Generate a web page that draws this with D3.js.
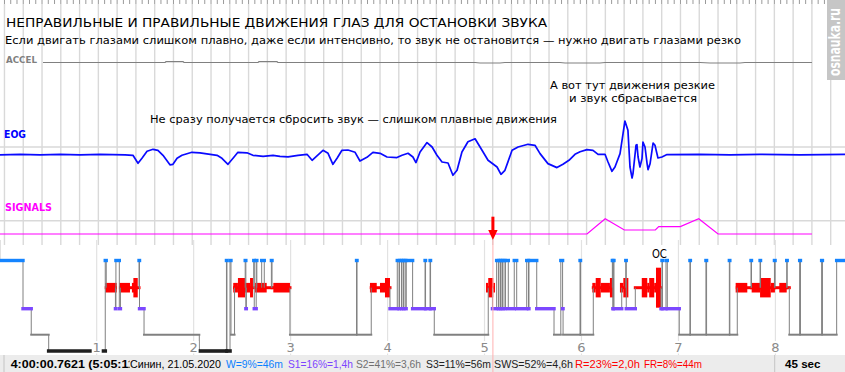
<!DOCTYPE html>
<html>
<head>
<meta charset="utf-8">
<script src="https://cdn.jsdelivr.net/npm/d3@7/dist/d3.min.js"></script>
<style>
html,body{margin:0;padding:0;background:#fff;}
svg{display:block;}
</style>
</head>
<body>
<svg id="chart" width="845" height="372"></svg>
<script>
// ================= DATA =================
// upper traces: 45-second window that starts at 4:00:00.7621
const windowStartFrac = 0.7621;
const windowSeconds = 45;

// EOG (time in s from window start, value in µV)
const eogTime = [0,1.07,2.13,3.20,4.26,5.33,6.66,7.08,7.35,7.56,7.83,8.15,8.41,8.68,9.05,9.21,9.43,9.69,10.22,10.65,11.56,11.82,12.14,12.41,12.67,13.15,13.47,14.01,14.54,14.91,15.34,15.87,16.35,16.62,16.88,17.20,17.47,17.73,17.95,18.21,18.53,18.91,19.17,19.54,19.86,20.24,20.61,21.14,21.41,21.73,21.99,22.15,22.37,22.74,23.01,23.27,23.54,23.86,24.12,24.34,24.60,24.92,25.30,25.67,25.99,26.47,26.68,26.89,27.27,27.59,28.12,28.49,28.76,29.18,29.66,29.98,30.30,30.62,30.89,31.26,31.58,31.85,32.22,32.38,32.59,32.75,33.02,33.18,33.28,33.44,33.55,33.66,33.71,33.87,33.92,33.98,34.08,34.19,34.24,34.35,34.46,34.51,34.62,34.78,34.88,35.04,35.25,35.52,37.28,38.88,40.47,42.60,45];
const eogValue = [-5,0,-5,0,-5,0,-5,-10,-90,-40,30,50,40,-10,-105,-100,-40,-10,20,15,-10,-40,-100,-40,20,15,-10,-20,-10,-20,-25,-10,0,-60,-16,40,10,-100,-40,40,43,20,-67,-30,20,10,-27,-33,-10,10,-27,-83,23,117,73,-10,-77,-87,-210,-160,23,125,155,40,-60,-127,-200,-160,40,73,100,90,7,-93,-133,-100,-60,0,25,47,40,0,0,-77,-170,-127,7,207,333,240,-127,-237,-193,90,97,-27,-127,-43,123,73,-93,-153,-93,113,90,-37,-27,-3,0,-5,0,-5,0];

// ACCEL
const accelTime = [2.29,8.79,8.84,9.75,9.80,13.74,13.79,14.75,14.80,25.30,25.56,26.63,26.89,29.82,30.09,31.95,32.22,37.28,37.81,39.41,39.67,43.24];
const accelValue = [0,0,8,8,0,0,8,8,0,0,-5,-5,0,0,-5,-5,0,0,-5,-5,0,0];

// SIGNALS
const signalTime = [0,31.26,32.23,33.25,34.90,35.08,36.23,37.21,38.24,43.24];
const signalValue = [0,0,100,26,26,48,48,100,0,0];

// hypnogram: segment start (minutes from recording start) and stage
const hypStart = [0,0,14.4,19.5,30.3,65.3,65.9,71.6,71.9,74.0,74.7,86.2,86.5,89.3,123.5,140.3,140.6,142.5,143.1,145.3,151.9,152.3,152.6,157.2,157.5,158.7,159.1,162.1,163.7,168.1,168.5,179.6,220.8,221.1,229.9,241.5,246.0,247.1,247.4,248.6,248.9,249.9,250.1,251.3,251.5,255.5,263.2,263.5,266.3,266.6,268.9,302.3,304.9,307.5,308.6,308.9,309.9,310.2,311.1,311.4,312.7,312.9,314.7,318.4,319.9,326.1,327.2,327.5,332.3,343.0,347.2,348.3,348.6,359.1,359.4,367.3,379.1,379.4,379.7,380.1,384.9,387.4,387.7,393.3,409.2,409.8,410.1,412.3,413.1,420.5,427.1,427.4,437.0,437.4,451.5,451.8,456.4,464.9,465.2,470.5,470.8,479.4,479.8,487.0,487.3,488.6,495.0,495.5,508.6,509.1,517.9];
const hypStage = ["A","W","S1","S2","S3","W","R","S1","W","S1","R","W","S1","S2","S3","W","S3","W","S2","R","W","S1","R","W","S1","W","R","W","R","W","R","S2","W","S2","R","S1","W","S1","W","S1","W","S1","W","S1","W","S1","W","S1","W","S1","S2","R","S1","W","S1","W","S1","W","S1","W","S1","W","S1","W","S1","W","S1","W","S1","S2","W","S1","S2","W","S2","R","W","S1","W","S1","R","W","S1","R","S1","W","S1","W","S1","S2","W","S2","W","S2","W","S2","R","W","R","W","R","W","R","W","R","S2","W","S2","W","S2","W"];
const hypEnd = 523.1;

// REM eye-movement density blocks (minutes) and level
const remStart = [65.3,74.0,81.8,82.7,144.5,147.4,151.8,154.9,158.0,169.3,229.1,235.3,238.4,300.9,302.3,305.4,366.7,368.8,371.9,377.6,383.8,385.9,397.3,400.7,401.9,405.0,406.1,455.4,465.3,470.5,477.1,482.4];
const remEnd   = [72.4,80.6,83.1,85.4,147.4,151.8,154.9,156.7,165.2,179.6,233.3,238.4,241.5,302.3,305.4,306.5,368.8,371.9,377.6,380.1,385.9,389.0,400.7,401.9,405.0,406.1,409.2,462.6,470.5,477.1,479.7,487.0];
const remLevel = [2,2,2,3,2,3,2,3,2,2,2,2,3,2,3,2,2,3,2,3,2,3,3,2,3,2,4,2,2,3,2,2];

const hourLabels = [1,2,3,4,5,6,7,8];
const cursorMinute = 305 + 11/60;   // 5:05:11
const markLabel = "ОС";
const markMinute = 408.2;

const titleText = "НЕПРАВИЛЬНЫЕ И ПРАВИЛЬНЫЕ ДВИЖЕНИЯ ГЛАЗ ДЛЯ ОСТАНОВКИ ЗВУКА";
const subtitleText = "Если двигать глазами слишком плавно, даже если интенсивно, то звук не остановится — нужно двигать глазами резко";
const note1Text = "Не сразу получается сбросить звук — слишком плавные движения";
const note2Lines = ["А вот тут движения резкие", "и звук сбрасывается"];
const timeText = "4:00:00.7621 (5:05:11";
const statusTexts = ["Синин, 21.05.2020", "W=9%=46m", "S1=16%=1,4h", "S2=41%=3,6h", "S3=11%=56m", "SWS=52%=4,6h", "R=23%=2,0h", "FR=8%=44m"];
const windowText = "45 sec";
const watermarkText = "osnauka.ru";

// ================= LAYOUT / STYLE =================
const W = 845, H = 372;
const svg = d3.select("#chart");
const FONT = "DejaVu Sans, Verdana, sans-serif";
const FONT2 = "Liberation Sans, Arial, sans-serif";

const tx = d3.scaleLinear().domain([0, windowSeconds]).range([0, W]);
const ey = d3.scaleLinear().domain([-400, 400]).range([194.3, 114.3]);
const ay = d3.scaleLinear().domain([-50, 50]).range([67.5, 57.5]);
const sy = d3.scaleLinear().domain([0, 100]).range([234, 218.7]);
const hx = d3.scaleLinear().domain([0, 480]).range([-0.27, 775.41]);
const stageY = d3.scaleOrdinal().domain(["A","W","R","S1","S2","S3"]).range([240, 260.5, 287.7, 308.7, 334.7, 351]);
const stageColor = {W:"#1484ff", R:"#ff0000", S1:"#7c48ff", S2:"#808080", S3:"#1e1e1e"};
const stageWidth = {W:3.4, R:3, S1:3.4, S2:2, S3:3.6};
const remHeight = {2:9.6, 3:19.4, 4:40};

// ---- upper grid ----
const gGrid = svg.append("g");
const majors = d3.range(1, windowSeconds + 1).map(k => k - windowStartFrac);
const minors = d3.range(3, (windowSeconds + 1) * 3).map(k => k / 3 - windowStartFrac).filter(t => t >= 0 && t <= windowSeconds);
gGrid.selectAll("line.v").data(majors).join("line")
  .attr("x1", d => tx(d)).attr("x2", d => tx(d)).attr("y1", 4).attr("y2", 245)
  .attr("stroke", "#d9d9d9").attr("stroke-width", 1.4);
gGrid.selectAll("line.m").data(minors).join("line")
  .attr("x1", d => tx(d)).attr("x2", d => tx(d)).attr("y1", 0).attr("y2", 4)
  .attr("stroke", "#9a9a9a").attr("stroke-width", 1);
gGrid.selectAll("line.h").data([147, 220.7]).join("line")
  .attr("x1", 0).attr("x2", W).attr("y1", d => d).attr("y2", d => d)
  .attr("stroke", "#d9d9d9").attr("stroke-width", 1.4);

// ---- titles ----
svg.append("text").attr("x", 6).attr("y", 27.3).text(titleText)
  .attr("font-family", FONT).attr("font-size", 13).attr("fill", "#000")
  .attr("textLength", 541).attr("lengthAdjust", "spacingAndGlyphs");
svg.append("text").attr("x", 5).attr("y", 44.3).text(subtitleText)
  .attr("font-family", FONT).attr("font-size", 11).attr("fill", "#000")
  .attr("textLength", 736).attr("lengthAdjust", "spacingAndGlyphs");

// ---- ACCEL ----
svg.append("text").attr("x", 6).attr("y", 63.3).text("ACCEL")
  .attr("font-family", FONT).attr("font-weight", "bold").attr("font-size", 9).attr("fill", "#808080")
  .attr("textLength", 31).attr("lengthAdjust", "spacingAndGlyphs");
svg.append("path").datum(d3.zip(accelTime, accelValue))
  .attr("d", d3.line().x(d => tx(d[0])).y(d => ay(d[1])))
  .attr("fill", "none").attr("stroke", "#808080").attr("stroke-width", 1.2);

// ---- notes ----
note2Lines.forEach((t, i) => {
  svg.append("text").attr("x", [550, 569][i]).attr("y", [89.3, 101.5][i]).text(t)
    .attr("font-family", FONT).attr("font-size", 11).attr("fill", "#000")
    .attr("textLength", [165, 128][i]).attr("lengthAdjust", "spacingAndGlyphs");
});
svg.append("text").attr("x", 150).attr("y", 123.3).text(note1Text)
  .attr("font-family", FONT).attr("font-size", 11).attr("fill", "#000")
  .attr("textLength", 407).attr("lengthAdjust", "spacingAndGlyphs");

// ---- EOG ----
svg.append("text").attr("x", 4).attr("y", 137.5).text("EOG")
  .attr("font-family", FONT).attr("font-weight", "bold").attr("font-size", 11).attr("fill", "#0000ff")
  .attr("textLength", 22).attr("lengthAdjust", "spacingAndGlyphs");
svg.append("path").datum(d3.zip(eogTime, eogValue))
  .attr("d", d3.line().x(d => tx(d[0])).y(d => ey(d[1])))
  .attr("fill", "none").attr("stroke", "#0a0aff").attr("stroke-width", 1.7).attr("stroke-linejoin", "round");

// ---- SIGNALS ----
svg.append("text").attr("x", 5).attr("y", 211).text("SIGNALS")
  .attr("font-family", FONT).attr("font-weight", "bold").attr("font-size", 11).attr("fill", "#ff00ff")
  .attr("textLength", 47).attr("lengthAdjust", "spacingAndGlyphs");
svg.append("path").datum(d3.zip(signalTime, signalValue))
  .attr("d", d3.line().x(d => tx(d[0])).y(d => sy(d[1])))
  .attr("fill", "none").attr("stroke", "#ff00ff").attr("stroke-width", 1.2);

// ---- watermark ----
svg.append("rect").attr("x", 827).attr("y", 0).attr("width", 18).attr("height", 80).attr("fill", "#c6c6c6");
svg.append("text").attr("transform", "translate(840,76) rotate(-90) scale(1,1.4)").text(watermarkText)
  .attr("font-family", FONT).attr("font-weight", "bold").attr("font-size", 10.8).attr("fill", "#fff")
  .attr("textLength", 68).attr("lengthAdjust", "spacingAndGlyphs");

// ================= HYPNOGRAM =================
const gH = svg.append("g");
// hour grid
gH.selectAll("line.hour").data(hourLabels).join("line")
  .attr("x1", d => hx(d * 60)).attr("x2", d => hx(d * 60)).attr("y1", 240).attr("y2", 355)
  .attr("stroke", "#e2e2e2").attr("stroke-width", 1.2);

const segs = hypStart.map((s, i) => ({ s, e: i + 1 < hypStart.length ? hypStart[i + 1] : hypEnd, st: hypStage[i] }));

// REM density
gH.selectAll("rect.rem").data(d3.range(remStart.length)).join("rect")
  .attr("x", i => hx(remStart[i])).attr("width", i => Math.max(1, hx(remEnd[i]) - hx(remStart[i])))
  .attr("y", i => stageY("R") - remHeight[remLevel[i]] / 2).attr("height", i => remHeight[remLevel[i]])
  .attr("fill", "#ff0000");
// REM bars
gH.selectAll("line.rbar").data(segs.filter(d => d.st === "R")).join("line")
  .attr("x1", d => hx(d.s)).attr("x2", d => hx(d.e)).attr("y1", d => stageY(d.st)).attr("y2", d => stageY(d.st))
  .attr("stroke", stageColor.R).attr("stroke-width", stageWidth.R).attr("stroke-linecap", "square");
// transitions
const trans = segs.slice(1).map((d, i) => ({ t: d.s, y1: stageY(segs[i].st), y2: stageY(d.st) }));
gH.selectAll("line.tr").data(trans).join("line")
  .attr("x1", d => hx(d.t)).attr("x2", d => hx(d.t)).attr("y1", d => d.y1).attr("y2", d => d.y2)
  .attr("stroke", "#808080").attr("stroke-width", 1);
// other stage bars
gH.selectAll("line.bar").data(segs.filter(d => d.st !== "R" && d.st !== "A")).join("line")
  .attr("x1", d => hx(d.s)).attr("x2", d => hx(d.e)).attr("y1", d => stageY(d.st)).attr("y2", d => stageY(d.st))
  .attr("stroke", d => stageColor[d.st]).attr("stroke-width", d => stageWidth[d.st]).attr("stroke-linecap", "square");

// hour labels
const gl = gH.selectAll("g.hl").data(hourLabels).join("g");
gl.append("rect").attr("x", d => hx(d * 60) - 5).attr("y", 341).attr("width", 10).attr("height", 12.5).attr("fill", "#fff");
gl.append("text").attr("x", d => hx(d * 60)).attr("y", 351.7).attr("text-anchor", "middle").text(d => d)
  .attr("font-family", FONT).attr("font-size", 13).attr("fill", "#8a8a8a");

// mark label
gH.append("text").attr("x", hx(markMinute)).attr("y", 258.3).attr("text-anchor", "middle").text(markLabel)
  .attr("font-family", FONT).attr("font-size", 13).attr("fill", "#000")
  .attr("textLength", 15).attr("lengthAdjust", "spacingAndGlyphs");

// ================= STATUS BAR =================
svg.append("rect").attr("x", 0).attr("y", 355).attr("width", W).attr("height", 17).attr("fill", "#ececec");
svg.selectAll("line.sep").data([4, 774.7]).join("line")
  .attr("x1", d => d).attr("x2", d => d).attr("y1", 355).attr("y2", 372)
  .attr("stroke", "#c4c4c4").attr("stroke-width", 1);
svg.append("clipPath").attr("id", "tclip").append("rect").attr("x", 0).attr("y", 355).attr("width", 129.5).attr("height", 17);
svg.append("text").attr("x", 10.7).attr("y", 368.3).text(timeText).attr("clip-path", "url(#tclip)")
  .attr("font-family", FONT2).attr("font-weight", "bold").attr("font-size", 11).attr("fill", "#000")
  .attr("textLength", 124).attr("lengthAdjust", "spacingAndGlyphs");
const statusColors = ["#000", "#0a80ff", "#7c44ff", "#707070", "#222", "#222", "#ff0000", "#ff0000"];
const statusX = [130, 226, 288, 356, 426, 494, 575, 644];
const statusW = [91, 57, 65, 65, 65, 79, 65, 58];
svg.selectAll("text.st").data(statusTexts).join("text")
  .attr("x", (d, i) => statusX[i]).attr("y", 368.3).text(d => d)
  .attr("font-family", FONT2).attr("font-size", 11).attr("fill", (d, i) => statusColors[i])
  .attr("textLength", (d, i) => statusW[i]).attr("lengthAdjust", "spacingAndGlyphs");
svg.append("text").attr("x", 785).attr("y", 368.3).text(windowText)
  .attr("font-family", FONT2).attr("font-weight", "bold").attr("font-size", 11).attr("fill", "#000")
  .attr("textLength", 35.5).attr("lengthAdjust", "spacingAndGlyphs");

// ================= CURSOR & ARROW =================
const cx = hx(cursorMinute);
svg.append("line").attr("x1", cx).attr("x2", cx).attr("y1", 240).attr("y2", 372)
  .attr("stroke", "#ffb0b0").attr("stroke-width", 1);
svg.append("rect").attr("x", cx - 1.5).attr("y", 216.7).attr("width", 3).attr("height", 14).attr("fill", "#ff0000");
svg.append("path").attr("d", d3.line()([[cx - 4.7, 230], [cx + 4.7, 230], [cx, 240]]) + "Z").attr("fill", "#ff0000");
</script>
</body>
</html>
